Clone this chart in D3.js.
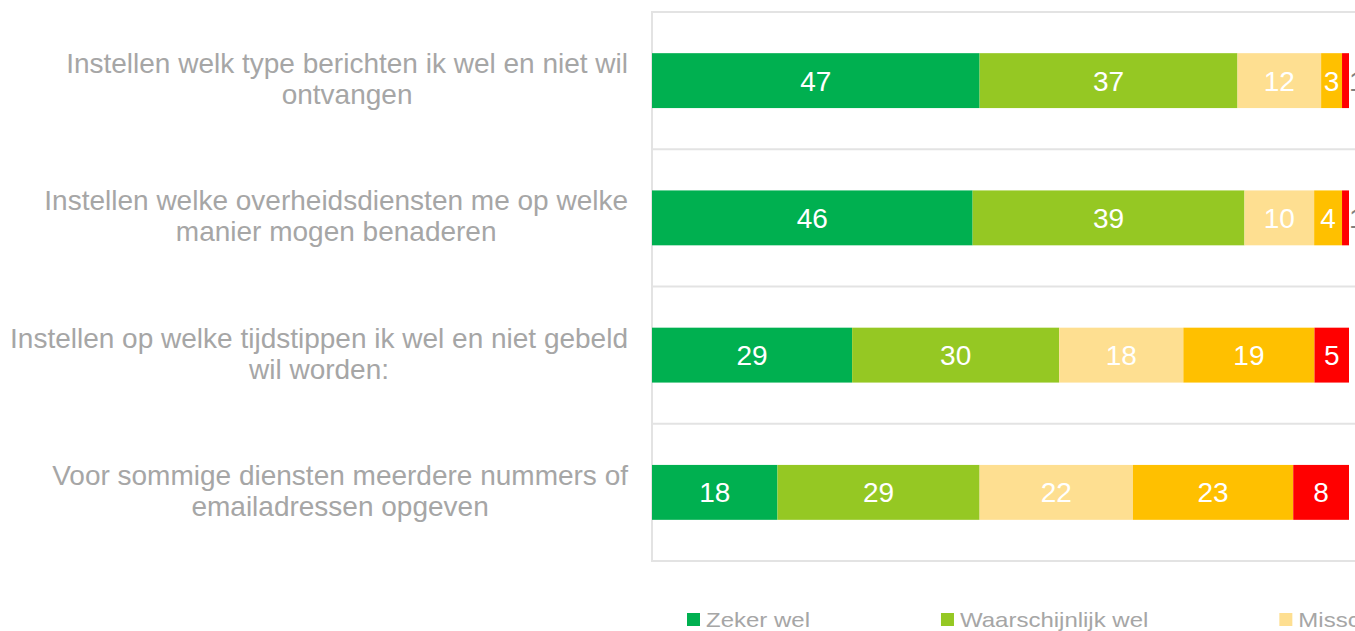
<!DOCTYPE html>
<html>
<head>
<meta charset="utf-8">
<script src="https://cdn.jsdelivr.net/npm/d3@7"></script>
<style>
  html, body { margin: 0; padding: 0; background: #ffffff; overflow: hidden; }
  svg { display: block; font-family: "Liberation Sans", Arial, sans-serif; }
</style>
</head>
<body>
<svg id="chart" width="1355" height="631"></svg>
<script>
// ---- data ----
const categories = [
  "Instellen welk type berichten ik wel en niet wil ontvangen",
  "Instellen welke overheidsdiensten me op welke manier mogen benaderen",
  "Instellen op welke tijdstippen ik wel en niet gebeld wil worden:",
  "Voor sommige diensten meerdere nummers of emailadressen opgeven"
];
const seriesNames = ["Zeker wel", "Waarschijnlijk wel", "Misschien", "Waarschijnlijk niet", "Zeker niet"];
const zekerWel = [47, 46, 29, 18];
const waarschijnlijkWel = [37, 39, 30, 29];
const misschien = [12, 10, 18, 22];
const waarschijnlijkNiet = [3, 4, 19, 23];
const zekerNiet = [1, 1, 5, 8];
const seriesColors = ["#00B050", "#95C823", "#FEDF91", "#FFC000", "#FF0000"];

const seriesValues = [zekerWel, waarschijnlijkWel, misschien, waarschijnlijkNiet, zekerNiet];
const rows = categories.map((c, i) => {
  const o = { category: c };
  seriesNames.forEach((s, j) => { o[s] = seriesValues[j][i]; });
  return o;
});

// ---- layout ----
const svg = d3.select("#chart");
const plot = { left: 652, right: 1349, top: 12, bottom: 561 };

const x = d3.scaleLinear().domain([0, 1]).range([plot.left, plot.right]);
const y = d3.scaleBand().domain(categories).range([plot.top, plot.bottom])
  .paddingInner(0.6).paddingOuter(0.3);
const color = d3.scaleOrdinal().domain(seriesNames).range(seriesColors);

const stacked = d3.stack().keys(seriesNames).offset(d3.stackOffsetExpand)(rows);

// plot area border & separators
const gridColor = "#e3e3e3";
svg.append("rect")
  .attr("x", plot.left).attr("y", plot.top)
  .attr("width", 1400 - plot.left).attr("height", plot.bottom - plot.top)
  .attr("fill", "none").attr("stroke", gridColor).attr("stroke-width", 2);

const step = y.step();
const seps = categories.slice(1).map((c, i) => plot.top + step * (i + 1));
svg.append("g").selectAll("line").data(seps).join("line")
  .attr("x1", plot.left).attr("x2", 1400)
  .attr("y1", d => d).attr("y2", d => d)
  .attr("stroke", gridColor).attr("stroke-width", 2);

// bars
const layers = svg.append("g").selectAll("g").data(stacked).join("g")
  .attr("fill", d => color(d.key));
layers.selectAll("rect").data(d => d).join("rect")
  .attr("x", d => x(d[0]))
  .attr("y", d => y(d.data.category))
  .attr("width", d => x(d[1]) - x(d[0]))
  .attr("height", y.bandwidth());

// data labels
const labelsG = svg.append("g").attr("font-size", 28);
stacked.forEach(layer => {
  layer.forEach(d => {
    const v = d.data[layer.key];
    const cy = y(d.data.category) + y.bandwidth() / 2 + 10;
    const small = v <= 1;
    labelsG.append("text")
      .attr("x", small ? x(d[1]) : (x(d[0]) + x(d[1])) / 2)
      .attr("y", cy)
      .attr("text-anchor", small ? "start" : "middle")
      .attr("fill", small ? "#808080" : "#ffffff")
      .text(v);
  });
});

// category labels (wrapped, block right-aligned, lines centered)
const catG = svg.append("g").attr("font-size", 28).attr("fill", "#a6a6a6");
const maxW = 632;
const probe = catG.append("text").attr("visibility", "hidden");
const measure = s => { probe.text(s); return probe.node().getComputedTextLength(); };
categories.forEach(c => {
  const cy = y(c) + y.bandwidth() / 2;
  const words = c.split(" ");
  let lines = [], cur = [];
  words.forEach(w => {
    const test = cur.concat([w]).join(" ");
    if (measure(test) > maxW && cur.length) {
      lines.push(cur.join(" "));
      cur = [w];
    } else cur.push(w);
  });
  lines.push(cur.join(" "));
  const blockW = d3.max(lines, measure);
  const cx = 628 - blockW / 2;
  const lh = 31;
  const first = cy - (lines.length - 1) * lh / 2 + 8;
  const t = catG.append("text").attr("text-anchor", "middle");
  lines.forEach((ln, i) => {
    t.append("tspan").attr("x", cx).attr("y", first + i * lh).text(ln);
  });
});
probe.remove();

// legend
const legG = svg.append("g");
let lx = 687;
seriesNames.forEach((s, i) => {
  const g = legG.append("g").attr("transform", `translate(${lx},0)`);
  g.append("rect").attr("x", 0).attr("y", 613).attr("width", 13).attr("height", 13)
    .attr("fill", color(s));
  const tx = g.append("text")
    .attr("transform", "translate(19,627) scale(1.2,1)")
    .attr("font-size", 20).attr("fill", "#a6a6a6")
    .text(s);
  const w = tx.node().getComputedTextLength() * 1.2;
  lx += 19 + w + 131;
});
</script>
</body>
</html>
